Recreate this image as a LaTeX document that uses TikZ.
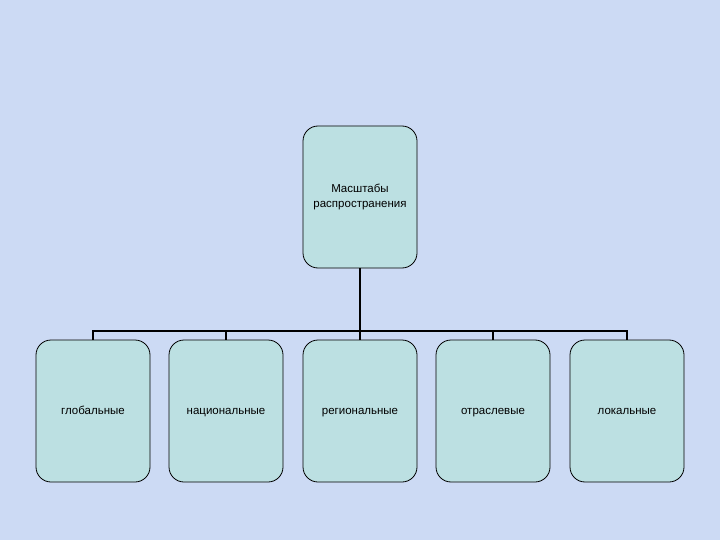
\documentclass[tikz,border=0pt]{standalone}
\usepackage{fontspec}
\setmainfont{Liberation Sans}
\begin{document}
\begin{tikzpicture}[x=1pt,y=-1pt,
  box/.style={draw=black,line width=0.8pt,fill=boxfill,rounded corners=15pt,
    minimum width=114pt,minimum height=142pt,align=center,inner sep=2pt,
    font=\fontsize{11.5}{15}\selectfont},
  leaf/.style={box,text height=8.5pt,text depth=2.5pt},
  conn/.style={draw=black,line width=1.6pt}]
\definecolor{bg}{RGB}{204,218,244}
\definecolor{boxfill}{RGB}{188,224,226}
\fill[bg] (0,0) rectangle (720,540);
\useasboundingbox (0,0) rectangle (720,540);
\node[box] (top) at (360,197) {Масштабы\\распространения};
\node[leaf] (b1) at (93,411) {глобальные};
\node[leaf] (b2) at (226,411) {национальные};
\node[leaf] (b3) at (360,411) {региональные};
\node[leaf] (b4) at (493,411) {отраслевые};
\node[leaf] (b5) at (627,411) {локальные};
\coordinate (bus) at (360,331);
\draw[conn] (top.south) -- (bus);
\draw[conn] (b1.north) -- (b1.north |- bus) -- (b5.north |- bus) -- (b5.north);
\foreach \n in {b2,b3,b4} \draw[conn] (\n.north) -- (\n.north |- bus);
\end{tikzpicture}
\end{document}
